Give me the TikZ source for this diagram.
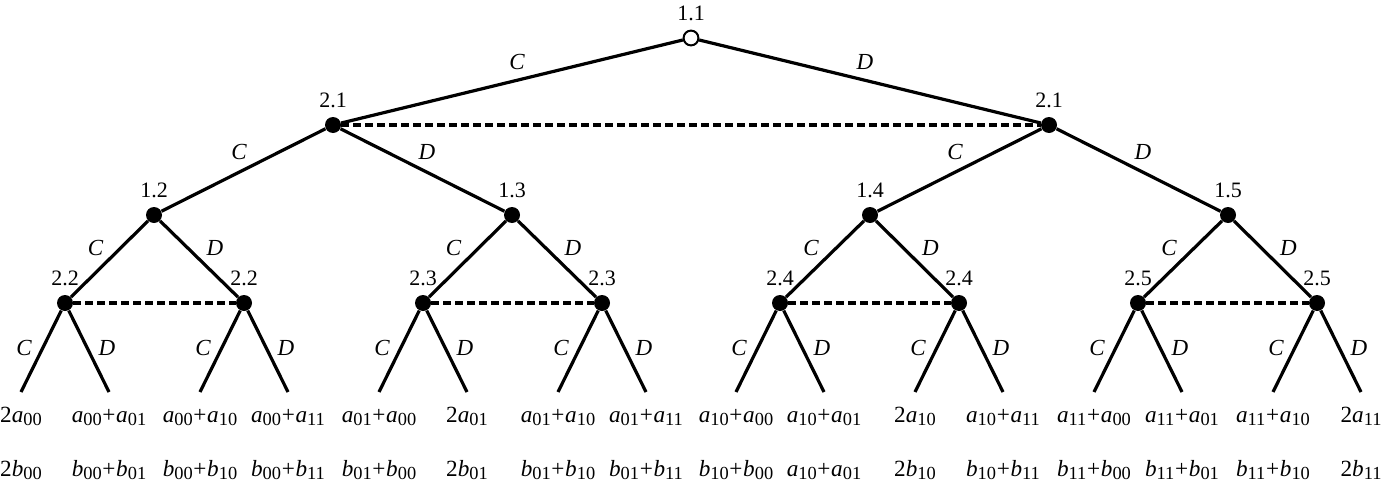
\documentclass[tikz,border=0pt]{standalone}
\usepackage{fontspec}
\setmainfont{Liberation Serif}
\usetikzlibrary{calc}
\newcommand\pv[2]{\textit{#1}\raisebox{-0.17em}{\fontsize{9.2}{10}\selectfont #2}}
\newcommand\pl{\kern0.03em+\kern0.03em}
\begin{document}
\begin{tikzpicture}[x=0.5pt,y=-0.5pt,
  edge/.style={line width=1.6pt},
  info/.style={line width=1.6pt, dash pattern=on 3.8pt off 2.2pt},
  dot/.style={circle, fill=black, inner sep=0pt, minimum size=8pt,
    label={[nlab]90:#1}},
  root/.style={circle, draw=black, fill=white, line width=1pt, inner sep=0pt, minimum size=7.4pt,
    label={[nlab]90:#1}},
  nlab/.style={inner sep=0pt, yshift=4pt, font=\fontsize{11}{12}\selectfont},
  elab/.style={inner sep=0pt, font=\fontsize{11.5}{13}\selectfont\itshape},
  pay/.style={inner sep=0pt, anchor=base, font=\fontsize{11.6}{13}\selectfont},
  ec1/.style={shift={(5,-19.5)}}, ed1/.style={shift={(-5,-19.5)}},
  ec2/.style={shift={(-4.5,-18)}}, ed2/.style={shift={(4.5,-18)}},
  ec3/.style={shift={(-14,-11)}}, ed3/.style={shift={(16,-11)}},
  ec4/.style={shift={(-17,-3)}}, ed4/.style={shift={(18,-3)}}
]
\tikzset{every label/.append style={label distance=0pt}}
\useasboundingbox (0,0) rectangle (1381,482);
% decision nodes
\node[root=1.1] (r) at (691,38) {};
\node[dot=2.1] (n1) at (333,125) {};
\node[dot=2.1] (n2) at (1049,125) {};
\node[dot=1.2] (m1) at (154,215) {};
\node[dot=1.3] (m2) at (512,215) {};
\node[dot=1.4] (m3) at (870,215) {};
\node[dot=1.5] (m4) at (1228,215) {};
\foreach \i/\x/\l in {1/65/2.2,2/244/2.2,3/423/2.3,4/602/2.3,5/780/2.4,6/959/2.4,7/1138/2.5,8/1317/2.5}{
  \node[dot=\l] (k\i) at (\x,303) {};
  \coordinate (t\i c) at (\x-44,392);
  \coordinate (t\i d) at (\x+44,392);
}
% information sets
\draw[info] (n1) -- (n2);
\draw[info] (k1) -- (k2);
\draw[info] (k3) -- (k4);
\draw[info] (k5) -- (k6);
\draw[info] (k7) -- (k8);
% edges
\draw[edge] (r) -- node[elab,ec1] {C} (n1);
\draw[edge] (r) -- node[elab,ed1] {D} (n2);
\draw[edge] (n1) -- node[elab,ec2] {C} (m1);
\draw[edge] (n1) -- node[elab,ed2] {D} (m2);
\draw[edge] (n2) -- node[elab,ec2] {C} (m3);
\draw[edge] (n2) -- node[elab,ed2] {D} (m4);
\foreach \m/\a/\b in {m1/k1/k2,m2/k3/k4,m3/k5/k6,m4/k7/k8}{
  \draw[edge] (\m) -- node[elab,ec3] {C} (\a);
  \draw[edge] (\m) -- node[elab,ed3] {D} (\b);
}
\foreach \i in {1,...,8}{
  \draw[edge] (k\i) -- node[elab,ec4] {C} (t\i c);
  \draw[edge] (k\i) -- node[elab,ed4] {D} (t\i d);
}
% payoffs
\foreach \i/\s/\pa/\pb in {
  1c/1/{2\pv{a}{00}}/{2\pv{b}{00}},
  1d/2/{\pv{a}{00}\pl\pv{a}{01}}/{\pv{b}{00}\pl\pv{b}{01}},
  2c/3/{\pv{a}{00}\pl\pv{a}{10}}/{\pv{b}{00}\pl\pv{b}{10}},
  2d/4/{\pv{a}{00}\pl\pv{a}{11}}/{\pv{b}{00}\pl\pv{b}{11}},
  3c/5/{\pv{a}{01}\pl\pv{a}{00}}/{\pv{b}{01}\pl\pv{b}{00}},
  3d/6/{2\pv{a}{01}}/{2\pv{b}{01}},
  4c/7/{\pv{a}{01}\pl\pv{a}{10}}/{\pv{b}{01}\pl\pv{b}{10}},
  4d/8/{\pv{a}{01}\pl\pv{a}{11}}/{\pv{b}{01}\pl\pv{b}{11}},
  5c/9/{\pv{a}{10}\pl\pv{a}{00}}/{\pv{b}{10}\pl\pv{b}{00}},
  5d/10/{\pv{a}{10}\pl\pv{a}{01}}/{\pv{a}{10}\pl\pv{a}{01}},
  6c/11/{2\pv{a}{10}}/{2\pv{b}{10}},
  6d/12/{\pv{a}{10}\pl\pv{a}{11}}/{\pv{b}{10}\pl\pv{b}{11}},
  7c/13/{\pv{a}{11}\pl\pv{a}{00}}/{\pv{b}{11}\pl\pv{b}{00}},
  7d/14/{\pv{a}{11}\pl\pv{a}{01}}/{\pv{b}{11}\pl\pv{b}{01}},
  8c/15/{\pv{a}{11}\pl\pv{a}{10}}/{\pv{b}{11}\pl\pv{b}{10}},
  8d/16/{2\pv{a}{11}}/{2\pv{b}{11}}}{
  \node[pay] (pa\s) at ($(t\i)+(0,30)$) {\pa};
  \node[pay] (pb\s) at ($(t\i)+(0,84)$) {\pb};
}
\end{tikzpicture}
\end{document}
